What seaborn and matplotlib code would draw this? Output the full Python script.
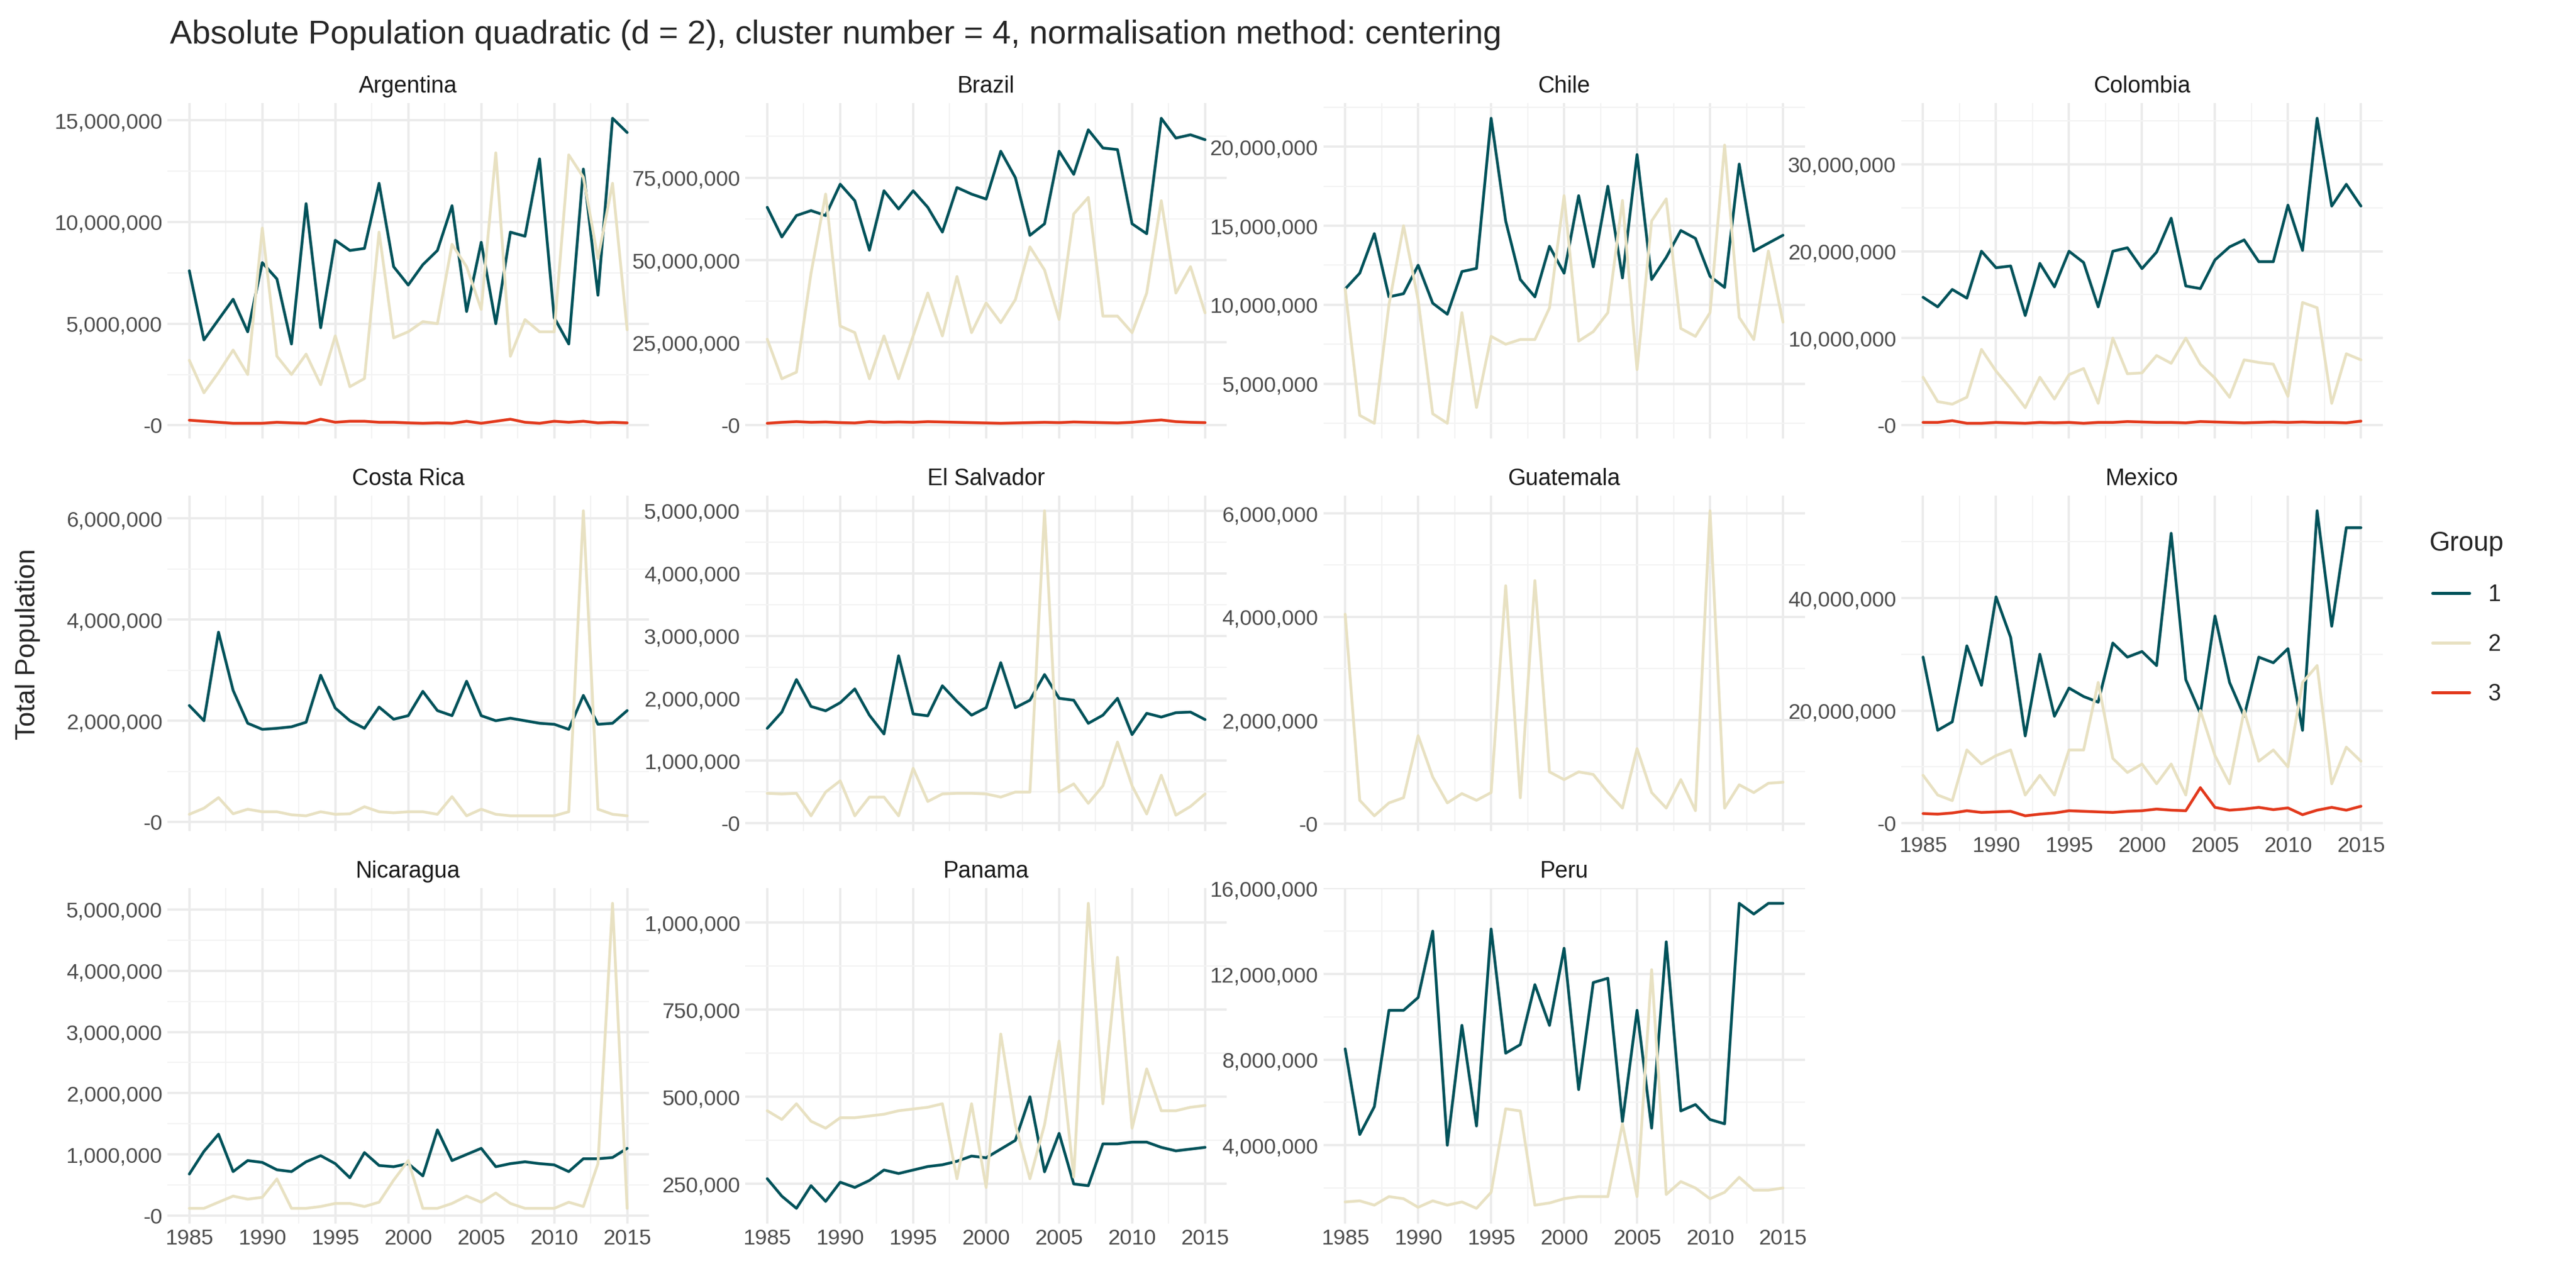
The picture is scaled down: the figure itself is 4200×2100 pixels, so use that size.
import numpy as np
import pandas as pd
import seaborn as sns
import matplotlib.pyplot as plt
from matplotlib.ticker import FuncFormatter, AutoMinorLocator
from matplotlib.lines import Line2D

YEARS = list(range(1985, 2016))
COUNTRIES = ["Argentina", "Brazil", "Chile", "Colombia", "Costa Rica", "El Salvador",
             "Guatemala", "Mexico", "Nicaragua", "Panama", "Peru"]

# values in millions
argentina_1 = [7.6, 4.2, 5.2, 6.2, 4.6, 8.0, 7.2, 4.0, 10.9, 4.8, 9.1, 8.6, 8.7, 11.9, 7.8, 6.9,
               7.9, 8.6, 10.8, 5.6, 9.0, 5.0, 9.5, 9.3, 13.1, 5.3, 4.0, 12.6, 6.4, 15.1, 14.4]
argentina_2 = [3.2, 1.6, 2.6, 3.7, 2.5, 9.7, 3.4, 2.5, 3.5, 2.0, 4.4, 1.9, 2.3, 9.5, 4.3, 4.6,
               5.1, 5.0, 8.9, 7.8, 5.7, 13.4, 3.4, 5.2, 4.6, 4.6, 13.3, 12.2, 8.2, 11.9, 4.7]
argentina_3 = [0.25, 0.2, 0.15, 0.1, 0.1, 0.1, 0.15, 0.12, 0.1, 0.3, 0.15, 0.2, 0.2, 0.15, 0.15, 0.12,
               0.1, 0.12, 0.1, 0.2, 0.1, 0.2, 0.3, 0.15, 0.1, 0.2, 0.15, 0.2, 0.12, 0.15, 0.12]
brazil_1 = [66, 57, 63.5, 65, 63.5, 73, 68, 53, 71, 65.5, 71, 66, 58.5, 72, 70, 68.5,
            83, 75, 57.5, 61, 83, 76, 89.5, 84, 83.5, 61, 58, 93, 87, 88, 86.5]
brazil_2 = [26, 14, 16, 46, 70, 30, 28, 14, 27, 14, 27, 40, 27, 45, 28, 37,
            31, 38, 54, 47, 32, 64, 69, 33, 33, 28, 40, 68, 40, 48, 34]
brazil_3 = [0.5, 0.8, 1.0, 0.8, 0.9, 0.7, 0.6, 1.0, 0.8, 0.9, 0.8, 1.0, 0.9, 0.8, 0.7, 0.6,
            0.5, 0.6, 0.7, 0.8, 0.7, 0.9, 0.8, 0.7, 0.6, 0.8, 1.2, 1.5, 1.0, 0.8, 0.7]
chile_1 = [11, 12, 14.5, 10.5, 10.7, 12.5, 10.1, 9.4, 12.1, 12.3, 21.8, 15.3, 11.6, 10.5, 13.7, 12,
           16.9, 12.4, 17.5, 11.7, 19.5, 11.6, 13, 14.7, 14.2, 11.8, 11.1, 18.9, 13.4, 13.9, 14.4]
chile_2 = [11, 3, 2.5, 10, 15, 10.3, 3.1, 2.5, 9.5, 3.5, 8, 7.5, 7.8, 7.8, 9.8, 16.9,
           7.7, 8.3, 9.5, 16.6, 5.9, 15.3, 16.7, 8.5, 8, 9.5, 20.1, 9.2, 7.8, 13.4, 8.9]
colombia_1 = [14.7, 13.6, 15.6, 14.6, 20, 18.1, 18.3, 12.6, 18.6, 15.9, 20, 18.7, 13.6, 20, 20.4, 18,
              19.9, 23.8, 16, 15.7, 19, 20.5, 21.3, 18.8, 18.8, 25.3, 20.1, 35.3, 25.2, 27.7, 25.2]
colombia_2 = [5.5, 2.7, 2.4, 3.2, 8.7, 6.2, 4.2, 2.0, 5.5, 3.0, 5.8, 6.5, 2.5, 10, 5.9, 6,
              8, 7.1, 10, 7, 5.4, 3.2, 7.5, 7.2, 7, 3.3, 14.1, 13.5, 2.5, 8.2, 7.5]
colombia_3 = [0.3, 0.3, 0.5, 0.2, 0.2, 0.3, 0.25, 0.2, 0.3, 0.25, 0.3, 0.2, 0.3, 0.3, 0.4, 0.35,
              0.3, 0.3, 0.25, 0.4, 0.35, 0.3, 0.25, 0.3, 0.35, 0.3, 0.35, 0.3, 0.3, 0.25, 0.45]
costa_rica_1 = [2.3, 2.0, 3.75, 2.6, 1.95, 1.83, 1.85, 1.88, 1.97, 2.9, 2.25, 2.0, 1.85, 2.27, 2.03, 2.1,
                2.58, 2.2, 2.1, 2.78, 2.1, 2.0, 2.05, 2.0, 1.95, 1.93, 1.83, 2.5, 1.93, 1.95, 2.2]
costa_rica_2 = [0.15, 0.27, 0.48, 0.16, 0.25, 0.2, 0.2, 0.14, 0.12, 0.2, 0.15, 0.16, 0.3, 0.2, 0.18, 0.2,
                0.2, 0.15, 0.5, 0.12, 0.25, 0.15, 0.12, 0.12, 0.12, 0.12, 0.2, 6.15, 0.25, 0.15, 0.12]
el_salvador_1 = [1.52, 1.78, 2.3, 1.87, 1.8, 1.93, 2.15, 1.73, 1.43, 2.68, 1.75, 1.72, 2.2, 1.95, 1.73, 1.85,
                 2.57, 1.85, 1.97, 2.38, 2.0, 1.97, 1.6, 1.73, 2.0, 1.42, 1.76, 1.7, 1.77, 1.78, 1.66]
el_salvador_2 = [0.48, 0.47, 0.48, 0.12, 0.5, 0.68, 0.12, 0.42, 0.42, 0.12, 0.88, 0.35, 0.47, 0.48, 0.48, 0.47,
                 0.42, 0.5, 0.5, 5.0, 0.5, 0.63, 0.32, 0.6, 1.3, 0.6, 0.15, 0.77, 0.13, 0.27, 0.47]
guatemala_2 = [4.05, 0.45, 0.15, 0.4, 0.5, 1.7, 0.9, 0.4, 0.58, 0.45, 0.6, 4.6, 0.5, 4.7, 1.0, 0.85,
               1.0, 0.95, 0.6, 0.3, 1.45, 0.6, 0.3, 0.85, 0.25, 6.05, 0.3, 0.75, 0.6, 0.78, 0.8]
mexico_1 = [29.5, 16.5, 18, 31.5, 24.5, 40.2, 33, 15.5, 30, 19, 24, 22.5, 21.5, 32, 29.5, 30.5,
            28, 51.5, 25.5, 19.5, 36.8, 25, 19, 29.5, 28.5, 31, 16.5, 55.5, 35, 52.5, 52.5]
mexico_2 = [8.5, 5, 4, 13, 10.5, 12, 13, 5, 8.5, 5, 13, 13, 25, 11.5, 9, 10.5,
            7, 10.5, 5, 20, 12, 7, 20, 11, 13, 10, 25, 28, 7, 13.5, 11]
mexico_3 = [1.7, 1.6, 1.8, 2.2, 1.9, 2, 2.1, 1.3, 1.6, 1.8, 2.2, 2.1, 2, 1.9, 2.1, 2.2,
            2.5, 2.3, 2.2, 6.3, 2.8, 2.3, 2.5, 2.8, 2.4, 2.7, 1.5, 2.3, 2.8, 2.3, 3]
nicaragua_1 = [0.68, 1.05, 1.33, 0.72, 0.9, 0.87, 0.75, 0.72, 0.88, 0.98, 0.85, 0.62, 1.03, 0.82, 0.8, 0.85,
               0.65, 1.4, 0.9, 1.0, 1.1, 0.8, 0.85, 0.88, 0.85, 0.83, 0.72, 0.93, 0.93, 0.95, 1.1]
nicaragua_2 = [0.12, 0.12, 0.22, 0.32, 0.27, 0.3, 0.6, 0.12, 0.12, 0.15, 0.2, 0.2, 0.15, 0.22, 0.58, 0.9,
               0.12, 0.12, 0.2, 0.32, 0.22, 0.37, 0.2, 0.12, 0.12, 0.12, 0.22, 0.15, 0.85, 5.1, 0.12]
panama_1 = [0.265, 0.215, 0.18, 0.245, 0.2, 0.255, 0.24, 0.26, 0.29, 0.28, 0.29, 0.3, 0.305, 0.315, 0.33, 0.325,
            0.35, 0.375, 0.5, 0.285, 0.395, 0.25, 0.245, 0.365, 0.365, 0.37, 0.37, 0.355, 0.345, 0.35, 0.355]
panama_2 = [0.46, 0.435, 0.48, 0.43, 0.41, 0.44, 0.44, 0.445, 0.45, 0.46, 0.465, 0.47, 0.48, 0.265, 0.48, 0.24,
            0.68, 0.42, 0.265, 0.42, 0.66, 0.27, 1.055, 0.48, 0.9, 0.41, 0.58, 0.46, 0.46, 0.47, 0.475]
peru_1 = [8.5, 4.5, 5.8, 10.3, 10.3, 10.9, 14, 4, 9.6, 4.9, 14.1, 8.3, 8.7, 11.5, 9.6, 13.2,
          6.6, 11.6, 11.8, 5.1, 10.3, 4.8, 13.5, 5.6, 5.9, 5.2, 5, 15.3, 14.8, 15.3, 15.3]
peru_2 = [1.35, 1.4, 1.2, 1.6, 1.5, 1.1, 1.4, 1.2, 1.35, 1.05, 1.8, 5.7, 5.6, 1.2, 1.3, 1.5,
          1.6, 1.6, 1.6, 5.0, 1.6, 12.2, 1.7, 2.3, 2.0, 1.5, 1.8, 2.5, 1.9, 1.9, 2.0]

SERIES = {
    "Argentina": {"1": argentina_1, "2": argentina_2, "3": argentina_3},
    "Brazil": {"1": brazil_1, "2": brazil_2, "3": brazil_3},
    "Chile": {"1": chile_1, "2": chile_2},
    "Colombia": {"1": colombia_1, "2": colombia_2, "3": colombia_3},
    "Costa Rica": {"1": costa_rica_1, "2": costa_rica_2},
    "El Salvador": {"1": el_salvador_1, "2": el_salvador_2},
    "Guatemala": {"2": guatemala_2},
    "Mexico": {"1": mexico_1, "2": mexico_2, "3": mexico_3},
    "Nicaragua": {"1": nicaragua_1, "2": nicaragua_2},
    "Panama": {"1": panama_1, "2": panama_2},
    "Peru": {"1": peru_1, "2": peru_2},
}
# y tick step per panel (millions)
Y_STEP = {"Argentina": 5, "Brazil": 25, "Chile": 5, "Colombia": 10, "Costa Rica": 2,
          "El Salvador": 1, "Guatemala": 2, "Mexico": 20, "Nicaragua": 1, "Panama": 0.25, "Peru": 4}
PALETTE = {"1": "#00525A", "2": "#E8E1C2", "3": "#E2391C"}

rows = []
for c, groups in SERIES.items():
    for g, vals in groups.items():
        for y, v in zip(YEARS, vals):
            rows.append({"country": c, "group": g, "year": y, "pop": v * 1e6})
df = pd.DataFrame(rows)

sns.set_style("whitegrid")
plt.rcParams["font.family"] = ["Liberation Sans", "DejaVu Sans"]

fig, axs = plt.subplots(3, 4, figsize=(14, 7), dpi=300, sharex=True)
fmt = FuncFormatter(lambda v, p: f"{v:,.0f}")
for i, ax in enumerate(axs.flat):
    if i >= len(COUNTRIES):
        ax.set_visible(False)
        continue
    c = COUNTRIES[i]
    sub = df[df["country"] == c]
    sns.lineplot(data=sub, x="year", y="pop", hue="group", palette=PALETTE,
                 hue_order=[g for g in ["1", "2", "3"] if g in SERIES[c]],
                 ax=ax, lw=1.1, legend=False)
    ax.set_title(c, fontsize=9, color="#1a1a1a", pad=4)
    ax.set_xlabel("")
    ax.set_ylabel("")
    lo, hi = ax.get_ylim()
    step = Y_STEP[c] * 1e6
    ax.set_yticks(np.arange(np.ceil(lo / step) * step, hi + 1, step))
    ax.set_ylim(lo, hi)
    ax.yaxis.set_major_formatter(fmt)
    ax.set_xticks([1985, 1990, 1995, 2000, 2005, 2010, 2015])
    ax.xaxis.set_minor_locator(AutoMinorLocator(2))
    ax.yaxis.set_minor_locator(AutoMinorLocator(2))
    ax.grid(which="major", color="#ebebeb", lw=0.9)
    ax.grid(which="minor", color="#f3f3f3", lw=0.5)
    ax.tick_params(labelsize=8.5, colors="#4d4d4d", length=0, pad=2)
    for s in ax.spines.values():
        s.set_visible(False)
    if i == 7:
        ax.xaxis.set_tick_params(labelbottom=True)

handles = [Line2D([0], [0], color=PALETTE[g], lw=1.2) for g in ["1", "2", "3"]]
fig.legend(handles, ["1", "2", "3"], title="Group", loc="center left",
           bbox_to_anchor=(0.935, 0.52), frameon=False, fontsize=9, title_fontsize=10.5,
           handlelength=1.6, labelspacing=1.2)
fig.supylabel("Total Population", x=0.006, fontsize=10.5)
fig.suptitle("Absolute Population quadratic (d = 2), cluster number = 4, normalisation method: centering",
             x=0.066, y=0.985, ha="left", fontsize=13)
plt.subplots_adjust(left=0.065, right=0.925, top=0.92, bottom=0.05, wspace=0.2, hspace=0.17)
fig.savefig("out.png", dpi=300)
